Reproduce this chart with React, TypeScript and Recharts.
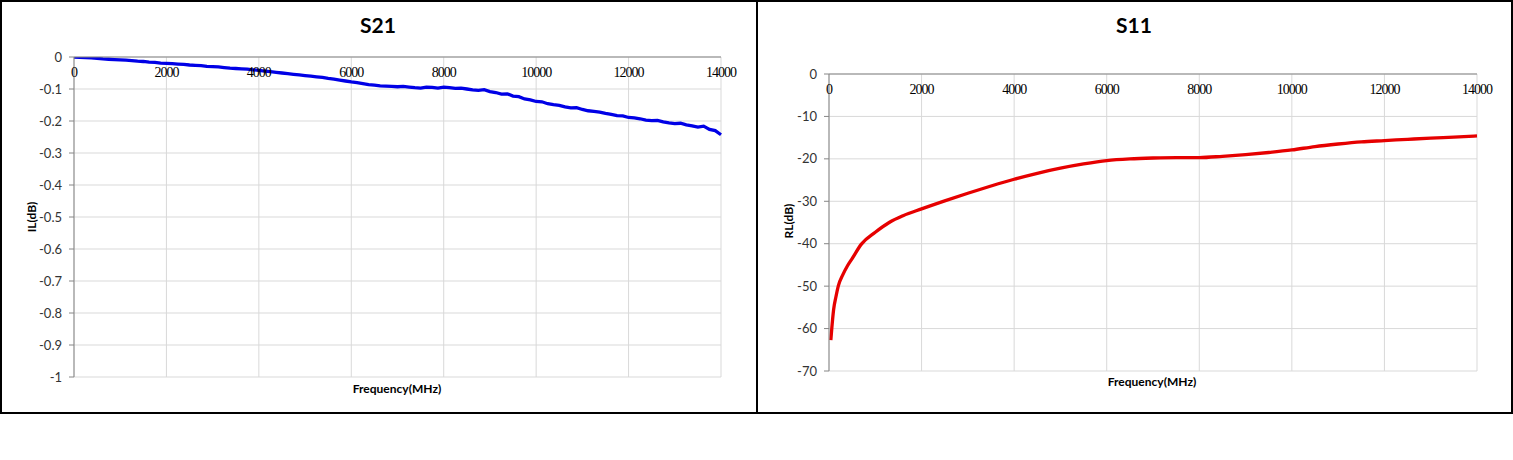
import React from "react"
import { LineChart, Line, XAxis, YAxis, CartesianGrid } from "recharts"

const FREQ_TICKS = [0, 2000, 4000, 6000, 8000, 10000, 12000, 14000]

const IL_TICKS = [0, -0.1, -0.2, -0.3, -0.4, -0.5, -0.6, -0.7, -0.8, -0.9, -1]
const RL_TICKS = [0, -10, -20, -30, -40, -50, -60, -70]

// S21 insertion loss, read every 125 MHz (one row per 1000 MHz)
const S21_STEP_MHZ = 125
const S21_IL = [
  0, -0.001, -0.002, -0.003, -0.004, -0.006, -0.007, -0.008,
  -0.009, -0.01, -0.011, -0.013, -0.014, -0.016, -0.017, -0.019,
  -0.02, -0.021, -0.022, -0.023, -0.025, -0.026, -0.027, -0.029,
  -0.03, -0.031, -0.033, -0.035, -0.036, -0.037, -0.038, -0.04,
  -0.042, -0.044, -0.046, -0.048, -0.05, -0.052, -0.054, -0.056,
  -0.058, -0.06, -0.062, -0.064, -0.067, -0.069, -0.072, -0.075,
  -0.078, -0.08, -0.083, -0.086, -0.088, -0.09, -0.091, -0.092,
  -0.093, -0.092, -0.094, -0.096, -0.097, -0.094, -0.095, -0.097,
  -0.094, -0.096, -0.098, -0.097, -0.1, -0.103, -0.104, -0.102,
  -0.108, -0.111, -0.116, -0.115, -0.122, -0.124, -0.131, -0.134,
  -0.139, -0.14, -0.146, -0.149, -0.151, -0.156, -0.159, -0.158,
  -0.164, -0.168, -0.17, -0.172, -0.176, -0.179, -0.183, -0.184,
  -0.189, -0.19, -0.193, -0.197, -0.199, -0.198, -0.203, -0.206,
  -0.208, -0.207, -0.212, -0.215, -0.219, -0.216, -0.226, -0.23,
  -0.243,
]

// S11 return loss
const S11_FREQ = [
  40, 60, 100, 150, 200, 300, 400, 500, 700, 1000, 1300, 1600, 2000, 2500, 3000, 3500, 4000,
  4500, 5000, 5500, 6000, 6500, 7000, 7500, 8000, 8500, 9000, 9500, 10000, 10500, 11000, 11500,
  12000, 12500, 13000, 13500, 14000,
]
const S11_RL = [
  -62.7, -60, -55.5, -52.5, -50, -47.3, -45.2, -43.5, -40.1, -37.3, -35, -33.4, -31.8, -29.9,
  -28.1, -26.4, -24.8, -23.4, -22.2, -21.2, -20.4, -20, -19.8, -19.7, -19.7, -19.4, -19, -18.5,
  -17.9, -17.1, -16.5, -16, -15.7, -15.4, -15.1, -14.9, -14.6,
]

const s21Data = S21_IL.map((v, i) => ({ f: i * S21_STEP_MHZ, v }))
const s11Data = S11_FREQ.map((f, i) => ({ f, v: S11_RL[i] }))

const W = 757
const H = 414

function renderFreqTick(props: any) {
  const { x, y, payload } = props
  return (
    <text
      key={payload.value}
      x={x}
      y={y + 19.5}
      textAnchor="middle"
      fontFamily="'Liberation Serif', serif"
      fontSize={14}
      letterSpacing={-1}
      fill="#000"
    >
      {payload.value}
    </text>
  )
}

function SChart(props: any) {
  const { left, title, data, ticks, domain, yLabel, color, width, margin, lineType, t } = props
  return (
    <div style={{ position: "absolute", left, top: 0, width: W, height: H }}>
      <LineChart width={W} height={H} data={data} margin={margin}>
        <CartesianGrid stroke="#d9d9d9" strokeWidth={1} />
        <XAxis
          dataKey="f"
          type="number"
          orientation="top"
          domain={[0, 14000]}
          ticks={FREQ_TICKS}
          height={1}
          tickSize={0}
          tickMargin={0}
          tickLine={false}
          axisLine={{ stroke: "#868686" }}
          tick={renderFreqTick}
          interval={0}
        />
        <YAxis
          type="number"
          domain={domain}
          ticks={ticks}
          width={width}
          tickSize={5}
          tickMargin={7}
          interval={0}
          axisLine={{ stroke: "#868686" }}
          tickLine={{ stroke: "#868686" }}
          tick={{ fontFamily: "Lato, sans-serif", fontSize: 13, fill: "#333" }}
          allowDataOverflow
        />
        <Line
          type={lineType}
          dataKey="v"
          stroke={color}
          strokeWidth={3.3}
          dot={false}
          isAnimationActive={false}
        />
      </LineChart>
      <svg
        width={W}
        height={H}
        style={{ position: "absolute", left: 0, top: 0, pointerEvents: "none" }}
        fontFamily="Lato, sans-serif"
      >
        <text x={t.titleX} y={33} textAnchor="middle" fontSize={21} fontWeight="bold" fill="#000">
          {title}
        </text>
        <text x={t.freqX} y={t.freqY} textAnchor="middle" fontSize={12} fontWeight="bold" fill="#000">
          Frequency(MHz)
        </text>
        <text
          x={t.labX}
          y={t.labY}
          textAnchor="middle"
          dominantBaseline="central"
          fontSize={12}
          fontWeight="bold"
          fill="#000"
          transform={`rotate(-90 ${t.labX} ${t.labY})`}
        >
          {yLabel}
        </text>
      </svg>
    </div>
  )
}

export default function App() {
  return (
    <div style={{ position: "absolute", left: 0, top: 0, width: 1513, height: 460, background: "#fff" }}>
      <SChart
        left={0}
        title="S21"
        data={s21Data}
        ticks={IL_TICKS}
        domain={[-1, 0]}
        yLabel="IL(dB)"
        color="#0000e6"
        width={74}
        margin={{ top: 56, right: 36, bottom: 37, left: 0 }}
        lineType="linear"
        t={{ titleX: 378, freqX: 397, freqY: 393, labX: 31.5, labY: 217 }}
      />
      <SChart
        left={756}
        title="S11"
        data={s11Data}
        ticks={RL_TICKS}
        domain={[-70, 0]}
        yLabel="RL(dB)"
        color="#e60000"
        width={73}
        margin={{ top: 73, right: 36, bottom: 43, left: 0 }}
        lineType="monotone"
        t={{ titleX: 378, freqX: 396, freqY: 386, labX: 32, labY: 221 }}
      />
      <div
        style={{
          position: "absolute", left: 0, top: 0, width: 758, height: 414,
          border: "2px solid #000", boxSizing: "border-box", pointerEvents: "none",
        }}
      />
      <div
        style={{
          position: "absolute", left: 756, top: 0, width: 757, height: 414,
          border: "2px solid #000", boxSizing: "border-box", pointerEvents: "none",
        }}
      />
    </div>
  )
}
